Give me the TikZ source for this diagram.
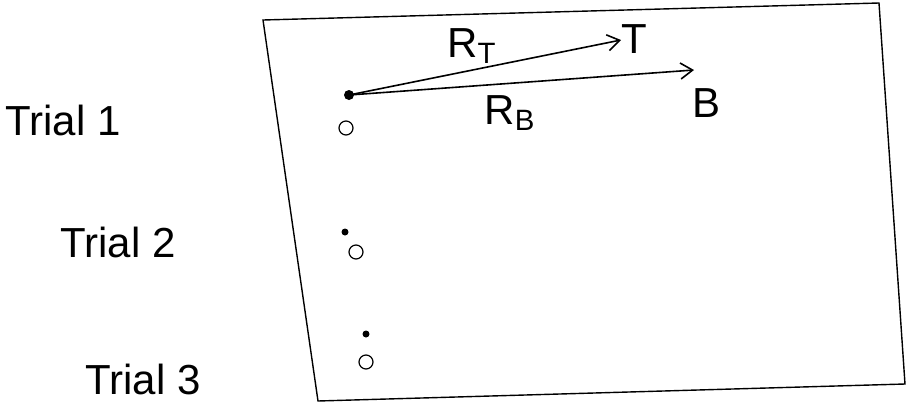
\documentclass[tikz,border=0pt]{standalone}
\usepackage{fontspec}
\setmainfont{Liberation Sans}
\usetikzlibrary{arrows.meta}
\begin{document}
\begin{tikzpicture}[x=0.5pt,y=-0.5pt,
  lbl/.style={inner sep=0pt,font=\fontsize{21}{23}\selectfont},
  dotc/.style={circle,fill=black,inner sep=0pt,minimum size=#1},
  ring/.style={circle,draw=black,line width=0.6pt,inner sep=0pt,minimum width=5.5pt,minimum height=7pt},
  frame/.style={line width=0.7pt},
  vec/.style={line width=0.8pt,-{Straight Barb[length=6pt,width=8pt,line width=0.8pt]}}]
\useasboundingbox (0,0) rectangle (907,403);
% frame
\coordinate (c1) at (263,20);
\coordinate (c2) at (879,3);
\coordinate (c3) at (905,384);
\coordinate (c4) at (318,401);
\draw[frame] (c1) -- (c2) -- (c3) -- (c4) -- cycle;
% trial labels
\node[lbl,anchor=west] (t1) at (5,120) {Trial 1};
\node[lbl,anchor=west] (t2) at (60,242) {Trial 2};
\node[lbl,anchor=west] (t3) at (85,379) {Trial 3};
% trial 1 origin
\node[dotc=5pt] (o1) at (349,95) {};
\node[ring] (r1) at (346,128) {};
\coordinate (Tend) at (621,40);
\coordinate (Bend) at (694,70);
\draw[vec] (o1.center) -- (Tend);
\draw[vec] (o1.center) -- (Bend);
\node[lbl] (T) at (634,39) {T};
\node[lbl] (B) at (707,103) {B};
\node[lbl] (RT) at (472,46) {R\textsubscript{T}};
\node[lbl] (RB) at (510,113) {R\textsubscript{B}};
% trial 2
\node[dotc=3.5pt] (o2) at (345,232) {};
\node[ring] (r2) at (356,252) {};
% trial 3
\node[dotc=3.5pt] (o3) at (366,334) {};
\node[ring] (r3) at (366,362) {};
\end{tikzpicture}
\end{document}
